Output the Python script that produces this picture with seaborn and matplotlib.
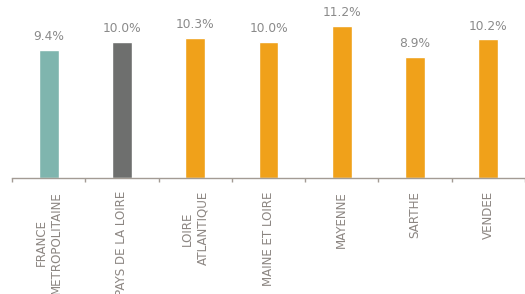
import matplotlib
matplotlib.use("Agg")
import matplotlib.pyplot as plt
import seaborn as sns
import pandas as pd

categories = ["FRANCE\nMETROPOLITAINE", "PAYS DE LA LOIRE", "LOIRE\nATLANTIQUE",
              "MAINE ET LOIRE", "MAYENNE", "SARTHE", "VENDEE"]
values = [9.4, 10.0, 10.3, 10.0, 11.2, 8.9, 10.2]
value_labels = ["9.4%", "10.0%", "10.3%", "10.0%", "11.2%", "8.9%", "10.2%"]
bar_colors = ["#7fb5ae", "#6e6f6e", "#f0a11a", "#f0a11a", "#f0a11a", "#f0a11a", "#f0a11a"]

sns.set_style("white")
plt.rcParams["font.family"] = ["DejaVu Sans"]

df = pd.DataFrame({"cat": categories, "val": values})

fig = plt.figure(figsize=(5.25, 2.94), dpi=100)
ax = fig.add_axes([12 / 525, 1 - 178 / 294, 1 - 12 / 525, 178 / 294])

sns.barplot(data=df, x="cat", y="val", hue="cat", palette=bar_colors,
            width=0.27, legend=False, ax=ax, saturation=1)

for i, (v, lab) in enumerate(zip(values, value_labels)):
    ax.text(i, v + 0.97, lab, ha="center", va="center", fontsize=8.8, color="#8a8a8a")

# the axis runs on past the right edge of the picture
ax.set_xlim(-0.5, (525 - 12) / 74.6 - 0.5)
ax.set_ylim(0, 178 / 13.6)

ax.set_xticks([i + 0.5 for i in range(-1, 7)])
ax.set_xticklabels([])
ax.set_xticks(range(7), minor=True)
ax.set_xticklabels(categories, minor=True, rotation=90, fontsize=8.6, color="#8c8682",
                   va="top", ha="center", multialignment="center")
ax.tick_params(axis="x", which="major", length=3, width=1, color="#a39b94", direction="out", bottom=True)
ax.tick_params(axis="x", which="minor", length=0, pad=9.5)
ax.set_yticks([])
ax.set_xlabel("")
ax.set_ylabel("")

for s in ["top", "right", "left"]:
    ax.spines[s].set_visible(False)
ax.spines["bottom"].set_color("#a39b94")
ax.spines["bottom"].set_linewidth(1)

fig.savefig("out.png", dpi=100)
